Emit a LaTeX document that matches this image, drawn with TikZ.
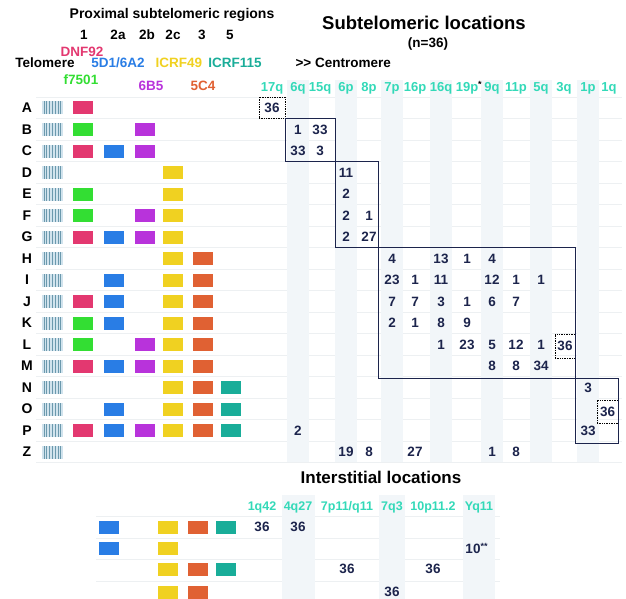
\documentclass[tikz,border=0pt]{standalone}
\usepackage{fontspec}
\setmainfont{Liberation Sans}
\usetikzlibrary{calc}
\definecolor{pink}{rgb}{0.89, 0.22, 0.44}
\definecolor{green}{rgb}{0.2, 0.87, 0.2}
\definecolor{blue}{rgb}{0.16, 0.49, 0.9}
\definecolor{purple}{rgb}{0.72, 0.2, 0.86}
\definecolor{yellow}{rgb}{0.94, 0.82, 0.13}
\definecolor{orange}{rgb}{0.88, 0.38, 0.2}
\definecolor{teal}{rgb}{0.1, 0.68, 0.6}
\definecolor{locus}{rgb}{0.2, 0.85, 0.72}
\definecolor{navy}{rgb}{0.11, 0.14, 0.3}
\definecolor{band}{rgb}{0.95, 0.965, 0.975}
\definecolor{rule}{rgb}{0.93, 0.94, 0.95}
\definecolor{telo}{rgb}{0.82, 0.89, 0.93}
\definecolor{telodark}{rgb}{0.42, 0.6, 0.68}

\begin{document}
\begin{tikzpicture}[x=1pt,y=-1pt,
		every node/.style={font=\bfseries},
		blk/.style={rectangle,inner sep=0pt,minimum width=20pt,minimum height=13pt,fill=#1},
		iblk/.style={blk=#1,xshift=-5pt},
		telobar/.style={rectangle,inner sep=0pt,minimum width=21pt,minimum height=13pt,fill=telo,
			path picture={\foreach \k in {0,...,6}
				\draw[telodark,line width=1pt] ([xshift=2pt+\k*2.8pt]path picture bounding box.south west) -- ([xshift=2pt+\k*2.8pt]path picture bounding box.north west);}},
		num/.style={text=navy,font=\bfseries\fontsize{13.5}{13.5}\selectfont},
		loc/.style={text=locus,font=\bfseries\fontsize{13}{13}\selectfont},
		iloc/.style={text=locus,font=\bfseries\fontsize{12.5}{12.5}\selectfont},
		lab/.style={font=\bfseries\fontsize{13.5}{13.5}\selectfont},
		grp/.style={draw=navy,line width=0.9pt},
		lone/.style={draw=black,densely dotted,line width=0.7pt,inner sep=0pt}]
	\useasboundingbox (0,0) rectangle (626,599);
	
	% light rules and column bands
	\foreach \i in {0,...,17}
		\draw[rule,line width=0.6pt] (36,{97.25+21.5*\i}) -- (622,{97.25+21.5*\i});
	\foreach \bx in {298,346,392,441,492,541,588}
		\fill[band] ({\bx-11},80) rectangle ({\bx+11},462);
	\foreach \y in {516,538,559,581}
		\draw[rule,line width=0.6pt] (96,\y) -- (500,\y);
	\fill[band] (282,495) rectangle (315,599);
	\fill[band] (379,495) rectangle (405,599);
	\fill[band] (463,495) rectangle (495,599);
	
	% headings
	\node[font=\bfseries\fontsize{14}{14}\selectfont] (prox) at (172,15) {Proximal subtelomeric regions};
	\foreach \rx/\rn in {84/1,118/2a,147/2b,173/2c,202/3,230/5}
		\node[lab] (reg-\rn) at (\rx,35) {\rn};
	\node[lab,text=pink] (dnf) at (82,52) {DNF92};
	\node[lab] (telomere) at (45,63) {Telomere};
	\node[lab,text=blue] (fived) at (118,63) {5D1/6A2};
	\node[lab,text=yellow] (icrf49) at (179,63) {ICRF49};
	\node[lab,text=teal] (icrf115) at (235,63) {ICRF115};
	\node[lab,text=green] (f7501) at (81,80) {f7501};
	\node[lab,text=purple] (sixb) at (151,86) {6B5};
	\node[lab,text=orange] (fivec) at (203,86) {5C4};
	\node[font=\bfseries\fontsize{18.5}{18.5}\selectfont] (subtel) at (424,23) {Subtelomeric locations};
	\node[font=\bfseries\fontsize{13.5}{13.5}\selectfont] (ncount) at (428,44) {(n=36)};
	\node[lab,anchor=west] (centro) at (292,63) {>{}> Centromere};
	
	\foreach \cx/\cn in {272/17q,298/6q,320/15q,346/6p,369/8p,392/7p,415/16p,441/16q,492/9q,516/11p,541/5q,564/3q,588/1p,609/1q}
		\node[loc] (c-\cn) at (\cx,88) {\cn};
	\node[loc] (c-19p) at (467,88) {19p\rlap{\raisebox{4pt}{\textcolor{black}{\fontsize{9}{9}\selectfont *}}}};
	
	% block columns
	\coordinate (col-1) at (83,0);
	\coordinate (col-2a) at (114,0);
	\coordinate (col-2b) at (145,0);
	\coordinate (col-2c) at (173,0);
	\coordinate (col-3) at (203,0);
	\coordinate (col-5) at (231,0);
	
	% rows
	\foreach \i/\l in {0/A,1/B,2/C,3/D,4/E,5/F,6/G,7/H,8/I,9/J,10/K,11/L,12/M,13/N,14/O,15/P,16/Z}{
		\node[font=\bfseries\fontsize{14}{14}\selectfont] (r-\l) at (27,{108+21.5*\i}) {\l};
		\node[telobar] (t-\l) at (52.5,{108+21.5*\i}) {};
	}
	\foreach \l/\cl/\bc in {A/1/pink,B/1/green,B/2b/purple,C/1/pink,C/2a/blue,C/2b/purple,
			D/2c/yellow,E/1/green,E/2c/yellow,F/1/green,F/2b/purple,F/2c/yellow,
			G/1/pink,G/2a/blue,G/2b/purple,G/2c/yellow,H/2c/yellow,H/3/orange,
			I/2a/blue,I/2c/yellow,I/3/orange,J/1/pink,J/2a/blue,J/2c/yellow,J/3/orange,
			K/1/green,K/2a/blue,K/2c/yellow,K/3/orange,L/1/green,L/2b/purple,L/2c/yellow,L/3/orange,
			M/1/pink,M/2a/blue,M/2b/purple,M/2c/yellow,M/3/orange,
			N/2c/yellow,N/3/orange,N/5/teal,O/2a/blue,O/2c/yellow,O/3/orange,O/5/teal,
			P/1/pink,P/2a/blue,P/2b/purple,P/2c/yellow,P/3/orange,P/5/teal}
		\node[blk=\bc] (b-\l-\cl) at (col-\cl |- r-\l) {};
	
	% counts
	\foreach \l/\cn/\v in {B/6q/1,B/15q/33,C/6q/33,C/15q/3,D/6p/11,E/6p/2,F/6p/2,F/8p/1,G/6p/2,G/8p/27,
			H/7p/4,H/16q/13,H/19p/1,H/9q/4,I/7p/23,I/16p/1,I/16q/11,I/9q/12,I/11p/1,I/5q/1,
			J/7p/7,J/16p/7,J/16q/3,J/19p/1,J/9q/6,J/11p/7,K/7p/2,K/16p/1,K/16q/8,K/19p/9,
			L/16q/1,L/19p/23,L/9q/5,L/11p/12,L/5q/1,M/9q/8,M/11p/8,M/5q/34,
			N/1p/3,P/6q/2,P/1p/33,Z/6p/19,Z/8p/8,Z/16p/27,Z/9q/1,Z/11p/8}
		\node[num] (n-\l-\cn) at (c-\cn |- r-\l) {\v};
	\node[num,lone,minimum width=26pt,minimum height=21pt] (n-A-17q) at (272,107.5) {36};
	\node[num,lone,minimum width=20pt,minimum height=24pt] (n-L-3q) at (565,346) {36};
	\node[num,lone,minimum width=21pt,minimum height=23pt] (n-O-1q) at (607.5,411.5) {36};
	
	\draw[grp] (285,118.5) rectangle (335,161);
	\draw[grp] (335,161) rectangle (378,247.5);
	\draw[grp] (378,247.5) rectangle (575,378.5);
	\draw[grp] (575,378.5) rectangle (618,443);
	
	% interstitial part
	\node[font=\bfseries\fontsize{17}{17}\selectfont] (inter) at (381,477) {Interstitial locations};
	\node[iloc] (i-1q42) at (262,507) {1q42};
	\node[iloc] (i-4q27) at (298,507) {4q27};
	\node[iloc] (i-7p11) at (347,507) {7p11/q11};
	\node[iloc] (i-7q3) at (392,507) {7q3};
	\node[iloc] (i-10p) at (433,507) {10p11.2};
	\node[iloc] (i-Yq11) at (479,507) {Yq11};
	\coordinate (ir-1) at (0,527);
	\coordinate (ir-2) at (0,548);
	\coordinate (ir-3) at (0,569);
	\coordinate (ir-4) at (0,592);
	\foreach \r/\cl/\bc in {1/2a/blue,1/2c/yellow,1/3/orange,1/5/teal,2/2a/blue,2/2c/yellow,
			3/2c/yellow,3/3/orange,3/5/teal,4/2c/yellow,4/3/orange}
		\node[iblk=\bc] (ib-\r-\cl) at (col-\cl |- ir-\r) {};
	\node[num] (in-1-a) at (i-1q42 |- ir-1) {36};
	\node[num] (in-1-b) at (i-4q27 |- ir-1) {36};
	\node[num] (in-2-a) at (473,548) {10\rlap{\raisebox{4pt}{\fontsize{9}{9}\selectfont **}}};
	\node[num] (in-3-a) at (i-7p11 |- ir-3) {36};
	\node[num] (in-3-b) at (i-10p |- ir-3) {36};
	\node[num] (in-4-a) at (i-7q3 |- ir-4) {36};
\end{tikzpicture}
\end{document}
